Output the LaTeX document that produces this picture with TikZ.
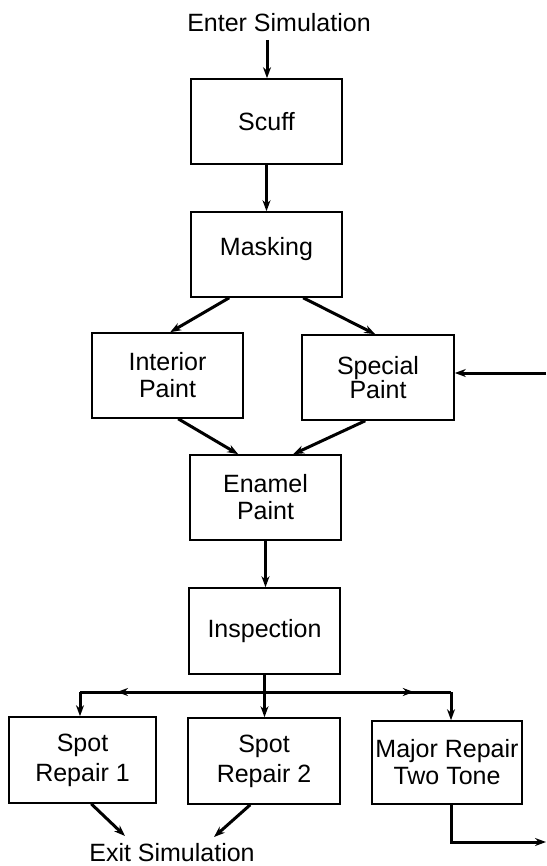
\documentclass[tikz,border=0pt]{standalone}
\usepackage{fontspec}
\setmainfont{Liberation Sans}
\usetikzlibrary{arrows.meta,calc,decorations.markings}
\begin{document}
\begin{tikzpicture}[x=1pt,y=-1pt,
  box/.style={draw,line width=1.6pt,minimum width=151pt,minimum height=85pt,inner sep=0pt,align=center,font=\fontsize{25}{27}\selectfont},
  lbl/.style={inner sep=0pt,font=\fontsize{25}{27}\selectfont},
  tip/.style={-{Stealth[length=11pt,width=8pt]}},
  conn/.style={line width=3pt,tip},
  wire/.style={line width=3pt},
  midarrow/.style={postaction={decorate},decoration={markings,mark=at position #1 with {\arrow{Stealth[length=11pt,width=8pt]}}}}
]
\fill[white] (0,0) rectangle (546,866);
\useasboundingbox (0,0) rectangle (546,866);

\node[lbl,anchor=base] (enter) at (279,32) {Enter Simulation};
\node[box] (scuff) at (266.5,121.5) {Scuff};
\node[box] (mask) at (266.5,254.5) {\raisebox{16pt}{Masking}};
\node[box] (interior) at (167.5,375.5) {Interior\\Paint};
\node[box,minimum width=152pt] (special) at (378,377.5) {Special\\[-3pt]Paint};
\node[box] (enamel) at (265.5,497.5) {Enamel\\Paint};
\node[box,minimum height=86pt] (insp) at (264.5,631) {Inspection};
\node[box,minimum width=147pt,minimum height=86pt] (spot1) at (82.5,760) {Spot\\[3pt]Repair 1};
\node[box,minimum width=152pt,minimum height=86pt] (spot2) at (264,761) {Spot\\[3pt]Repair 2};
\node[box,minimum width=150pt,minimum height=83pt] (major) at (447,762.5) {Major Repair\\Two Tone};
\node[lbl,anchor=base] (exit) at (172,861) {Exit Simulation};

% entry
\coordinate (e0) at (267,40);
\draw[conn] (e0) -- (e0 |- scuff.north);
\draw[conn] (scuff.south) -- (mask.north);
\draw[conn] ($(mask.south west)+(39,0)$) -- ($(interior.north west)+(79,0)$);
\draw[conn] ($(mask.south west)+(113,0)$) -- ($(special.north west)+(74,0)$);
\coordinate (rin) at (546,373);
\draw[conn] (rin) -- (rin -| special.east);
\draw[conn] ($(interior.south west)+(87,0)$) -- ($(enamel.north west)+(49,0)$);
\draw[conn] ($(special.south west)+(64,0)$) -- ($(enamel.north west)+(104,0)$);
\draw[conn] (enamel.south) -- (enamel.south |- insp.north);

% branching
\coordinate (junc) at (265,692);
\coordinate (lft) at (80,692);
\coordinate (rgt) at (451,692);
\draw[wire,midarrow=0.8] (junc) -- (lft);
\draw[wire,midarrow=0.8] (junc) -- (rgt);
\draw[conn] (lft) -- (lft |- spot1.north);
\draw[conn] (rgt) -- (rgt |- major.north);
\draw[conn] (insp.south) -- (insp.south |- spot2.north);

% exits
\coordinate (x1) at (125,836);
\coordinate (x2) at (214,837);
\draw[conn] ($(spot1.south west)+(83,0)$) -- (x1);
\draw[conn] ($(spot2.south west)+(63,0)$) -- (x2);
\coordinate (mout) at (546,842);
\draw[conn] (rgt |- major.south) -- (rgt |- mout) -- (mout);
\end{tikzpicture}
\end{document}
